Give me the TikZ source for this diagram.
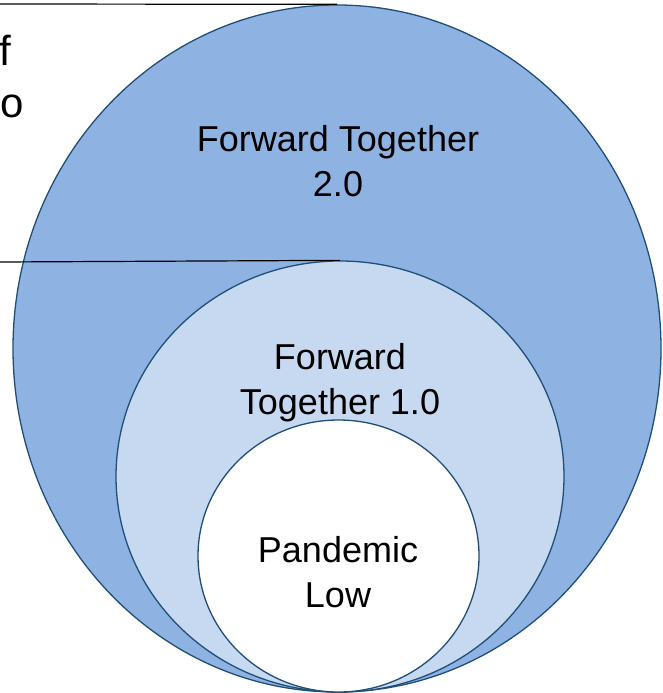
\documentclass[tikz,border=0pt]{standalone}
\usepackage{fontspec}
\setmainfont{Liberation Sans}
\usetikzlibrary{shapes,shapes.geometric,positioning}
\definecolor{ringdark}{RGB}{142,179,226}
\definecolor{ringlight}{RGB}{198,217,240}
\definecolor{ringedge}{RGB}{31,78,121}

\tikzset{
  ring/.style={ellipse, draw=ringedge, line width=1.3pt, inner sep=0pt},
  label/.style={align=center, inner sep=0pt, font=\fontsize{36}{45}\selectfont}
}

\begin{document}
\begin{tikzpicture}[x=1pt, y=-1pt]
\useasboundingbox (0,0) rectangle (662,693);
\node[ring, fill=ringdark, minimum width=648pt, minimum height=687pt](outer) at (337,348.5) {};
\node[ring, fill=ringlight, minimum width=448pt, minimum height=431pt](middle) at (340,476.5) {};
\node[ring, fill=white, minimum width=281pt, minimum height=272pt](inner) at (338.5,556) {};

% lines coming in from the left
\coordinate (top) at (0,4);
\coordinate (mid) at (0,262);
\draw[line width=1.2pt] (top) -- (outer.north);
\draw[line width=1.2pt] (mid) -- (middle.north);

\node[label](two) at (338,161.5) {Forward Together\\2.0};
\node[label](one) at (340,383) {Forward\\Together 1.0};
\node[label](low) at (338,572.5) {Pandemic\\Low};

\node[anchor=east, inner sep=0pt, font=\fontsize{42}{42}\selectfont](f) at (11,50) {f};
\node[anchor=base west, inner sep=0pt, font=\fontsize{42}{42}\selectfont](o) at (0.5,117) {o};
\end{tikzpicture}
\end{document}
